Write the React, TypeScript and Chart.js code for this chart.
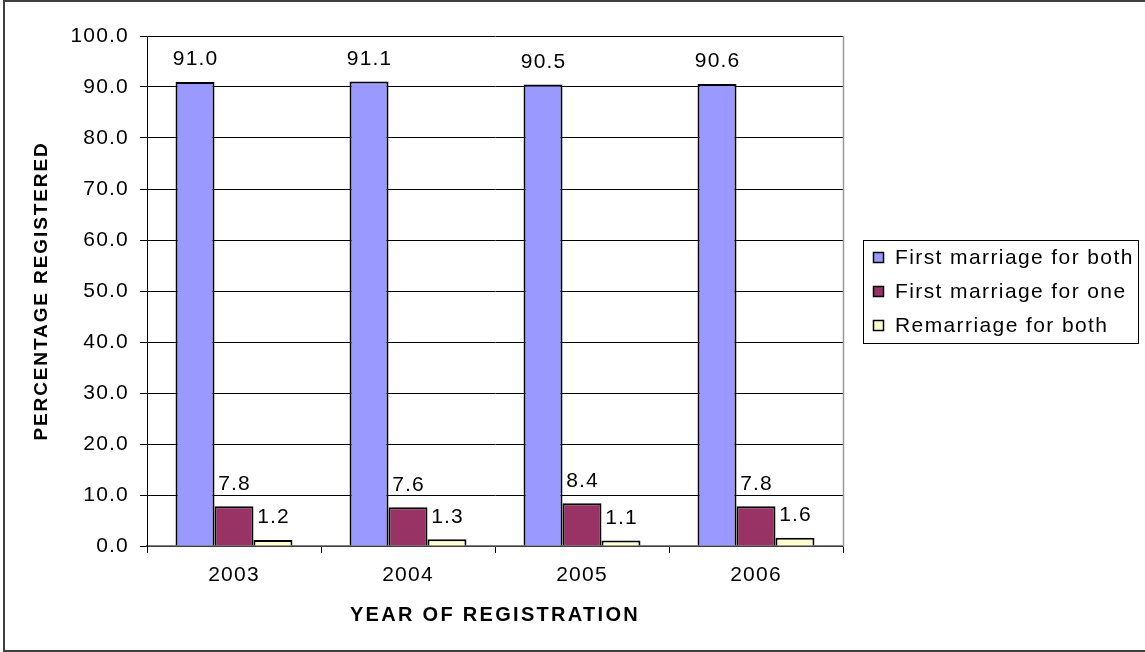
import React, { useEffect, useRef } from 'react';
import { Chart, registerables } from 'chart.js';

Chart.register(...registerables);

const years = ['2003', '2004', '2005', '2006'];
const firstMarriageBoth = [91.0, 91.1, 90.5, 90.6];
const firstMarriageOne = [7.8, 7.6, 8.4, 7.8];
const remarriageBoth = [1.2, 1.3, 1.1, 1.6];
const seriesLabels = ['First marriage for both', 'First marriage for one', 'Remarriage for both'];
const seriesColors = ['#9999FF', '#993366', '#FFFFCC'];
const xTitle = 'YEAR OF REGISTRATION';
const yTitle = 'PERCENTAGE REGISTERED';

const FONT = '"Liberation Sans", Arial, sans-serif';
const TEXT_SPACING = '1.2px';

const spacingPlugin = {
  id: 'spacing',
  beforeDraw(chart: any) {
    chart.ctx.letterSpacing = TEXT_SPACING;
  },
  afterLayout(chart: any) {
    Object.values(chart.scales).forEach((s: any) => {
      if (s.__wrapped) return;
      const orig = s.drawTitle.bind(s);
      const sp = s.id === 'x' ? '2.3px' : '1.9px';
      s.drawTitle = (a: any) => {
        const ctx = chart.ctx;
        const prev = ctx.letterSpacing;
        ctx.letterSpacing = sp;
        orig(a);
        ctx.letterSpacing = prev;
      };
      s.__wrapped = true;
    });
  },
};

const labelsPlugin = {
  id: 'barLabels',
  afterDatasetsDraw(chart: any) {
    const ctx = chart.ctx;
    ctx.save();
    ctx.font = `21px ${FONT}`;
    ctx.fillStyle = '#000';
    ctx.textAlign = 'center';
    ctx.textBaseline = 'alphabetic';
    ctx.letterSpacing = TEXT_SPACING;
    chart.data.datasets.forEach((ds: any, i: number) => {
      const meta = chart.getDatasetMeta(i);
      meta.data.forEach((bar: any, j: number) => {
        ctx.fillText(Number(ds.data[j]).toFixed(1), bar.x + 0.6, bar.y - 16.5);
      });
    });
    ctx.restore();
  },
};

const framePlugin = {
  id: 'frame',
  afterDraw(chart: any) {
    const { ctx, chartArea } = chart;
    ctx.save();
    // right border of plot area
    ctx.strokeStyle = '#999999';
    ctx.lineWidth = 1.5;
    ctx.beginPath();
    ctx.moveTo(chartArea.right + 0.5, chartArea.top);
    ctx.lineTo(chartArea.right + 0.5, chartArea.bottom);
    ctx.stroke();

    // legend box
    const boxW = 275;
    const boxH = 103;
    const left = chartArea.right + 20;
    const top = (chartArea.top + chartArea.bottom) / 2 - boxH / 2;
    ctx.strokeStyle = '#000';
    ctx.lineWidth = 1;
    ctx.strokeRect(Math.round(left) + 0.5, Math.round(top) + 0.5, boxW, boxH);

    ctx.font = `21px ${FONT}`;
    ctx.letterSpacing = '1.4px';
    ctx.textAlign = 'left';
    ctx.textBaseline = 'middle';
    chart.data.datasets.forEach((ds: any, i: number) => {
      const cy = top + 17.5 + i * 34;
      const mx = Math.round(left + 10);
      const my = Math.round(cy - 5);
      ctx.fillStyle = ds.backgroundColor;
      ctx.fillRect(mx, my, 11, 11);
      ctx.strokeStyle = '#000';
      ctx.lineWidth = 1.5;
      ctx.strokeRect(mx + 0.5, my + 0.5, 10, 10);
      ctx.fillStyle = '#000';
      ctx.fillText(ds.label, left + 32, cy + 1);
    });
    ctx.restore();
  },
};

export default function App() {
  const canvasRef = useRef<HTMLCanvasElement | null>(null);

  useEffect(() => {
    document.body.style.margin = '0';
    document.body.style.overflow = 'hidden';
    const canvas = canvasRef.current;
    if (!canvas) return;
    Chart.defaults.font.family = FONT;
    const data = [firstMarriageBoth, firstMarriageOne, remarriageBoth];
    const chart = new Chart(canvas, {
      type: 'bar',
      data: {
        labels: years,
        datasets: data.map((values, i) => ({
          label: seriesLabels[i],
          data: values,
          backgroundColor: seriesColors[i],
          borderColor: '#000',
          borderWidth: 2,
          barPercentage: 1,
          categoryPercentage: 0.672,
        })),
      },
      options: {
        responsive: false,
        animation: false,
        devicePixelRatio: 1,
        layout: { padding: { top: 36, right: 302, left: 0, bottom: 0 } },
        plugins: {
          legend: { display: false },
          tooltip: { enabled: false },
        },
        scales: {
          x: {
            afterFit: (s: any) => {
              s.height = 106;
            },
            grid: {
              display: true,
              drawOnChartArea: false,
              drawTicks: true,
              tickLength: 7,
              color: '#000',
              offset: true,
            },
            border: { display: true, color: '#808080', width: 1.5 },
            ticks: { color: '#000', font: { size: 21 }, padding: 10 },
            title: {
              display: true,
              text: xTitle,
              color: '#000',
              font: { size: 20, weight: 'bold' },
              padding: { top: 0, bottom: 25 },
            },
          },
          y: {
            min: 0,
            max: 100,
            afterFit: (s: any) => {
              s.width = 147;
            },
            grid: {
              color: '#000',
              lineWidth: 1,
              drawTicks: true,
              tickLength: 7,
            },
            border: { display: true, color: '#000', width: 1 },
            ticks: {
              stepSize: 10,
              color: '#000',
              font: { size: 21 },
              padding: 11,
              callback: (v: any) => Number(v).toFixed(1),
            },
            title: {
              display: true,
              text: yTitle,
              color: '#000',
              font: { size: 19, weight: 'bold' },
              padding: { top: 30, bottom: 0 },
            },
          },
        },
      },
      plugins: [spacingPlugin, labelsPlugin, framePlugin],
    });
    return () => chart.destroy();
  }, []);

  return (
    <div style={{ position: 'relative', width: 1145, height: 652, overflow: 'hidden', background: '#fff' }}>
      <canvas
        ref={canvasRef}
        width={1145}
        height={652}
        style={{ position: 'absolute', left: 0, top: 0, width: 1145, height: 652 }}
      />
      <div
        style={{
          position: 'absolute',
          left: 3,
          top: 0,
          width: 1160,
          height: 652,
          boxSizing: 'border-box',
          border: '2px solid #404040',
          pointerEvents: 'none',
        }}
      />
    </div>
  );
}
